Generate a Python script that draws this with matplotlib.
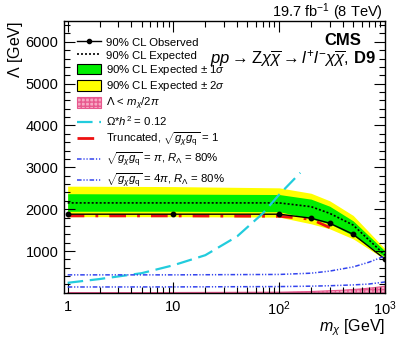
import numpy as np
import matplotlib
matplotlib.use("Agg")
import matplotlib.pyplot as plt
from matplotlib.lines import Line2D
from matplotlib.patches import Patch

plt.rcParams.update({
    "font.family": ["Liberation Sans", "DejaVu Sans"],
    "mathtext.fontset": "custom",
    "mathtext.rm": "Liberation Sans",
    "mathtext.it": "Liberation Sans:italic",
    "mathtext.bf": "Liberation Sans:bold",
})

# limit curves (m_chi in GeV, Lambda in GeV)
mass = [1, 10, 100, 200, 300, 500, 1000]
observed = [1880, 1880, 1880, 1785, 1665, 1400, 805]
expected = [2150, 2150, 2150, 2060, 1900, 1620, 900]
exp_1s_hi = [2370, 2360, 2350, 2240, 2070, 1720, 1000]
exp_1s_lo = [1950, 1950, 1940, 1770, 1650, 1370, 860]
exp_2s_hi = [2550, 2540, 2510, 2380, 2200, 1850, 1050]
exp_2s_lo = [1820, 1820, 1810, 1650, 1530, 1290, 800]

trunc_mass = [1, 10, 100, 200, 300]
trunc_lim = [1840, 1840, 1830, 1760, 1560]

relic_mass = [1, 2, 5, 10, 20, 40, 70, 100, 158]
relic_lim = [240, 330, 470, 660, 900, 1350, 1900, 2350, 2870]

blue_mass = [1, 10, 100, 200, 300, 500, 700, 1000]
ra_pi = [430, 430, 440, 470, 520, 620, 730, 880]
ra_4pi = [140, 142, 150, 160, 170, 190, 210, 260]

eft_mass = [1, 100, 200, 400, 600, 800, 1000]
eft_lim = [0.16, 16, 32, 64, 95, 127, 159]

fig = plt.figure(figsize=(3.99, 3.37), dpi=100)
ax = fig.add_axes([0.160, 0.131, 0.805, 0.807])

ax.fill_between(mass, exp_2s_lo, exp_2s_hi, color="#ffff00", lw=0)
ax.fill_between(mass, exp_1s_lo, exp_1s_hi, color="#00ee00", lw=0)
ax.fill_between(eft_mass, 0, eft_lim, facecolor="#f7a8c4", edgecolor="#e8588e",
                hatch="++++", lw=0.8)
ax.plot(mass, expected, color="black", ls=(0, (1.2, 1.2)), lw=1.2)
ax.plot(trunc_mass, trunc_lim, color="#ee1111", ls=(0, (6, 4, 1, 4)), lw=2)
ax.plot(mass, observed, color="black", lw=1.0, marker="o", ms=3.2)
ax.plot(relic_mass, relic_lim, color="#22ccdd", ls=(0, (7, 3)), lw=1.6)
dd = (0, (3, 1.2, 0.8, 1.2, 0.8, 1.2))
ax.plot(blue_mass, ra_pi, color="#3344ee", ls=dd, lw=1.1)
ax.plot(blue_mass, ra_4pi, color="#3344ee", ls=dd, lw=1.1)

ax.set_xscale("log")
ax.set_xlim(0.92, 1000)
ax.set_ylim(0, 6500)
ax.set_xticks([1, 10, 100, 1000])
ax.set_xticklabels(["1", "10", "$10^2$", "$10^3$"])
ax.set_yticks([1000, 2000, 3000, 4000, 5000, 6000])
ax.set_yticks(np.arange(200, 6500, 200), minor=True)
ax.tick_params(which="both", direction="in", top=True, right=True, labelsize=10.5)
ax.tick_params(which="major", length=8, width=0.8)
ax.tick_params(which="minor", length=4, width=0.8)
ax.tick_params(axis="x", which="major", pad=5)
ax.tick_params(axis="y", which="major", pad=4)
for s in ax.spines.values():
    s.set_linewidth(1.0)

ax.set_xlabel(r"$m_\chi$ [GeV]", fontsize=11.5, ha="right", va="center")
ax.xaxis.set_label_coords(1.0, -0.128)
ax.set_ylabel(r"$\Lambda$ [GeV]", fontsize=11.5, ha="right", va="center")
ax.yaxis.set_label_coords(-0.152, 1.0)

fig.text(0.960, 0.965, r"19.7 fb$^{-1}$ (8 TeV)", ha="right", va="center", fontsize=10.5)
ax.text(0.925, 0.927, "CMS", transform=ax.transAxes, ha="right", va="center",
        fontsize=12, fontweight="bold")
ax.text(0.97, 0.86,
        r"$pp \rightarrow \mathrm{Z}\chi\overline{\chi} \rightarrow l^{+}l^{-}\chi\overline{\chi}$, $\mathbf{D9}$",
        transform=ax.transAxes, ha="right", va="center", fontsize=12)

handles = [
    Line2D([], [], color="black", lw=1.0, marker="o", ms=3),
    Line2D([], [], color="black", ls=(0, (1.2, 1.2)), lw=1.2),
    Patch(facecolor="#00ee00", edgecolor="black", lw=0.8),
    Patch(facecolor="#ffff00", edgecolor="black", lw=0.8),
    Patch(facecolor="#f7a8c4", edgecolor="#e8588e", hatch="++++", lw=0.8),
    Line2D([], [], color="#22ccdd", ls=(0, (7, 3)), lw=1.6),
    Line2D([], [], color="#ee1111", ls=(0, (6, 4, 1, 4)), lw=2),
    Line2D([], [], color="#3344ee", ls=dd, lw=1.1),
    Line2D([], [], color="#3344ee", ls=dd, lw=1.1),
]
labels = [
    "90% CL Observed",
    "90% CL Expected",
    r"90% CL Expected $\pm$ 1$\sigma$",
    r"90% CL Expected $\pm$ 2$\sigma$",
    r"$\mathit{\Lambda}$ < $m_\chi/2\pi$",
    r"$\Omega$*$h^2$ = 0.12",
    r"Truncated, $\sqrt{g_\chi g_\mathrm{q}}$ = 1",
    r"$\sqrt{g_\chi g_\mathrm{q}}$ = $\pi$, $R_\Lambda$ = 80%",
    r"$\sqrt{g_\chi g_\mathrm{q}}$ = 4$\pi$, $R_\Lambda$ = 80%",
]
ax.legend(handles, labels, loc="upper left", bbox_to_anchor=(0.04, 0.942),
          frameon=False, fontsize=8.2, handlelength=2.1, handleheight=1.0,
          labelspacing=0.2, handletextpad=0.45, borderaxespad=0, borderpad=0)

fig.savefig("out.png", dpi=100)
